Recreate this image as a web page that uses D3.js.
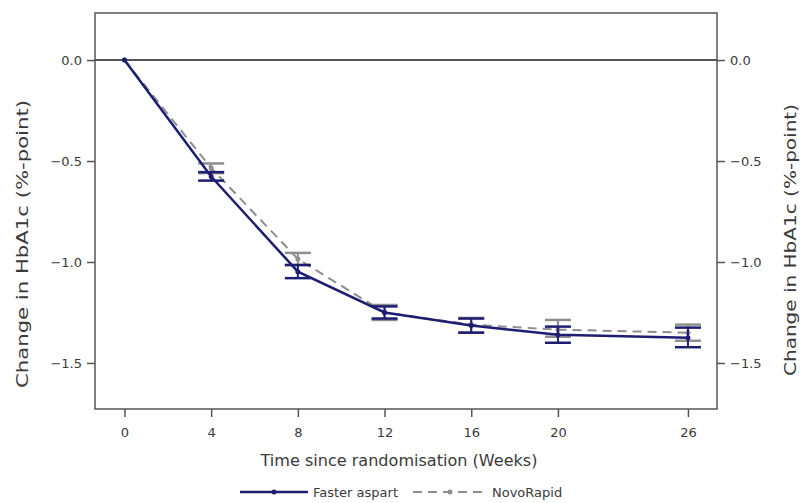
<!DOCTYPE html>
<html>
<head>
<meta charset="utf-8">
<script src="https://cdn.jsdelivr.net/npm/d3@7"></script>
<style>
  body { margin: 0; background: #fff; }
  svg { display: block; font-family: 'DejaVu Sans', Verdana, sans-serif; }
</style>
</head>
<body>
<div id="chart"></div>
<script>
// weeks since randomisation
const weeks = [0, 4, 8, 12, 16, 20, 26];
const xTicks = [0, 4, 8, 12, 16, 20, 26];
const yTicks = [0, -0.5, -1.0, -1.5];

// Faster aspart: mean and CI
const fasterMean = [0, -0.577, -1.048, -1.25, -1.315, -1.36, -1.375];
const fasterLow  = [0, -0.597, -1.080, -1.28, -1.35, -1.40, -1.422];
const fasterHigh = [0, -0.555, -1.015, -1.22, -1.28, -1.32, -1.325];

// NovoRapid: mean and CI
const novoMean = [0, -0.535, -0.985, -1.25, -1.31, -1.335, -1.35];
const novoLow  = [0, -0.560, -1.015, -1.287, -1.35, -1.37, -1.39];
const novoHigh = [0, -0.512, -0.955, -1.213, -1.277, -1.287, -1.31];

const W = 802, H = 503;
const plot = { left: 95, top: 13, right: 717, bottom: 409 };

const svg = d3.select('#chart').append('svg')
  .attr('width', W).attr('height', H);

const x = d3.scaleLinear().domain([-1.36, 27.34]).range([plot.left, plot.right]);
const y = d3.scaleLinear().domain([0.233, -1.728]).range([plot.top, plot.bottom]);

const axisColor = '#555';
const textColor = '#3a3a3a';
const navy = '#1d1d72';
const grey = '#8e8e8e';

// axes
const fmt = d3.format('.1f');
const gl = svg.append('g').attr('transform', `translate(${plot.left},0)`)
  .call(d3.axisLeft(y).tickValues(yTicks).tickFormat(fmt).tickSize(8).tickPadding(5));
const gr = svg.append('g').attr('transform', `translate(${plot.right},0)`)
  .call(d3.axisRight(y).tickValues(yTicks).tickFormat(fmt).tickSize(8).tickPadding(5));
const gb = svg.append('g').attr('transform', `translate(0,${plot.bottom})`)
  .call(d3.axisBottom(x).tickValues(xTicks).tickFormat(d3.format('d')).tickSize(8).tickPadding(11));

[gl, gr, gb].forEach(g => {
  g.select('.domain').remove();
  g.selectAll('line').attr('stroke', axisColor).attr('stroke-width', 1.5);
  g.selectAll('text').attr('fill', textColor).attr('font-size', 13)
    .attr('font-family', "'DejaVu Sans', Verdana, sans-serif");
});

// frame
svg.append('rect')
  .attr('x', plot.left).attr('y', plot.top)
  .attr('width', plot.right - plot.left).attr('height', plot.bottom - plot.top)
  .attr('fill', 'none').attr('stroke', axisColor).attr('stroke-width', 1.5);

// zero reference
svg.append('line')
  .attr('x1', plot.left).attr('x2', plot.right)
  .attr('y1', y(0)).attr('y2', y(0))
  .attr('stroke', axisColor).attr('stroke-width', 2);

function drawSeries(mean, low, high, color, dash, width) {
  const g = svg.append('g');
  const pts = weeks.map((w, i) => ({ w, m: mean[i], lo: low[i], hi: high[i] }));
  g.append('path')
    .datum(pts)
    .attr('fill', 'none')
    .attr('stroke', color)
    .attr('stroke-width', width)
    .attr('stroke-dasharray', dash)
    .attr('d', d3.line().x(d => x(d.w)).y(d => y(d.m)));
  const bars = pts.filter(d => d.w > 0);
  g.selectAll('.v').data(bars).enter().append('line')
    .attr('x1', d => x(d.w)).attr('x2', d => x(d.w))
    .attr('y1', d => y(d.lo)).attr('y2', d => y(d.hi))
    .attr('stroke', color).attr('stroke-width', 2);
  ['lo', 'hi'].forEach(k => {
    g.selectAll('.c' + k).data(bars).enter().append('line')
      .attr('x1', d => x(d.w) - 13).attr('x2', d => x(d.w) + 13)
      .attr('y1', d => y(d[k])).attr('y2', d => y(d[k]))
      .attr('stroke', color).attr('stroke-width', 2.5);
  });
  g.selectAll('circle').data(pts).enter().append('circle')
    .attr('cx', d => x(d.w)).attr('cy', d => y(d.m))
    .attr('r', 2.5).attr('fill', color);
}

drawSeries(novoMean, novoLow, novoHigh, grey, '9,6', 2);
drawSeries(fasterMean, fasterLow, fasterHigh, navy, null, 2.5);

// axis titles
svg.append('text')
  .attr('transform', `translate(28,244) rotate(-90)`)
  .attr('text-anchor', 'middle')
  .attr('fill', textColor).attr('font-size', 16)
  .attr('textLength', 288).attr('lengthAdjust', 'spacingAndGlyphs')
  .text('Change in HbA1c (%-point)');

svg.append('text')
  .attr('transform', `translate(796,240) rotate(-90)`)
  .attr('text-anchor', 'middle')
  .attr('fill', textColor).attr('font-size', 16)
  .attr('textLength', 272).attr('lengthAdjust', 'spacingAndGlyphs')
  .text('Change in HbA1c (%-point)');

svg.append('text')
  .attr('x', 399).attr('y', 466)
  .attr('text-anchor', 'middle')
  .attr('fill', textColor).attr('font-size', 15)
  .attr('textLength', 277).attr('lengthAdjust', 'spacingAndGlyphs')
  .text('Time since randomisation (Weeks)');

// legend
const legend = [
  { name: 'Faster aspart', color: navy, dash: null, w: 2.5, x0: 240, x1: 308, tx: 313 },
  { name: 'NovoRapid', color: grey, dash: '9,6', w: 2, x0: 413, x1: 487, tx: 492 }
];
const ly = 492;
const lg = svg.append('g');
legend.forEach(d => {
  lg.append('line')
    .attr('x1', d.x0).attr('x2', d.x1).attr('y1', ly).attr('y2', ly)
    .attr('stroke', d.color).attr('stroke-width', d.w).attr('stroke-dasharray', d.dash);
  lg.append('circle')
    .attr('cx', (d.x0 + d.x1) / 2).attr('cy', ly).attr('r', 2.5).attr('fill', d.color);
  lg.append('text')
    .attr('x', d.tx).attr('y', ly + 5)
    .attr('fill', textColor).attr('font-size', 13)
    .text(d.name);
});
</script>
</body>
</html>
